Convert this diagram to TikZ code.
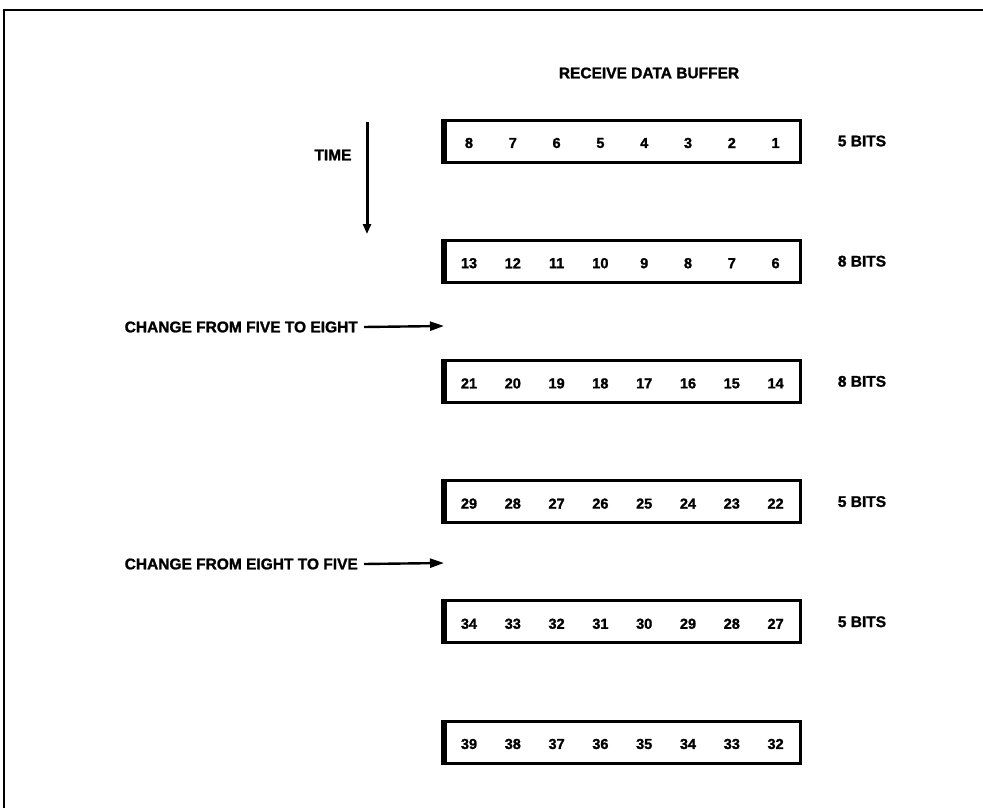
\documentclass[tikz,border=0pt]{standalone}
\usepackage{fontspec}
\setmainfont{Liberation Sans}
\newfontfamily\heavy{Liberation Sans Bold}[FakeBold=1.3]
\usetikzlibrary{arrows.meta}
\begin{document}
\begin{tikzpicture}[x=1pt,y=-1pt,
  lbl/.style={font=\heavy\fontsize{15.5}{18}\selectfont, inner sep=0pt},
  num/.style={font=\heavy\fontsize{14.5}{16}\selectfont, inner sep=0pt},
  buf/.style={draw, line width=3pt, minimum width=355pt, minimum height=42pt, inner sep=0pt},
  leftedge/.style={line width=5pt},
  arr/.style={line width=2.4pt, -{Triangle[length=14pt,width=9pt]}},
  tarr/.style={line width=3pt, -{Triangle[length=10pt,width=8pt]}},
  frame/.style={line width=2pt}]
\useasboundingbox (0,0) rectangle (983,808);
\coordinate (fb) at (4,808);
\coordinate (ftl) at (4,10);
\coordinate (ftr) at (983,10);
\draw[frame] (fb) -- (ftl) -- (ftr);

\node[lbl] (title) at (649,73) {RECEIVE DATA BUFFER};

\foreach \s/\lab [count=\r] in {8/5 BITS,13/8 BITS,21/8 BITS,29/5 BITS,34/5 BITS,39/} {
  \pgfmathsetmacro\yc{141+120.2*(\r-1)}
  \node[buf] (b\r) at (622.5,\yc) {};
  \draw[leftedge] (b\r.north west) -- (b\r.south west);
  \foreach \i in {0,...,7} {
    \pgfmathtruncatemacro\v{\s-\i}
    \node[num] (n\r-\i) at (469+43.8*\i,\yc+2) {\v};
  }
  \node[lbl] (bits\r) at (862,\yc) {\lab};
}

\node[lbl] (time) at (333,155) {TIME};
\coordinate (ttop) at (367,122);
\coordinate (tbot) at (367,234);
\draw[tarr] (ttop) -- (tbot);

\node[lbl, anchor=east] (c1) at (358,327) {CHANGE FROM FIVE TO EIGHT};
\coordinate (c1e) at (444,326);
\draw[arr] ([xshift=6pt]c1.east) -- (c1e);

\node[lbl, anchor=east] (c2) at (358,564) {CHANGE FROM EIGHT TO FIVE};
\coordinate (c2e) at (444,563);
\draw[arr] ([xshift=6pt]c2.east) -- (c2e);
\end{tikzpicture}
\end{document}
